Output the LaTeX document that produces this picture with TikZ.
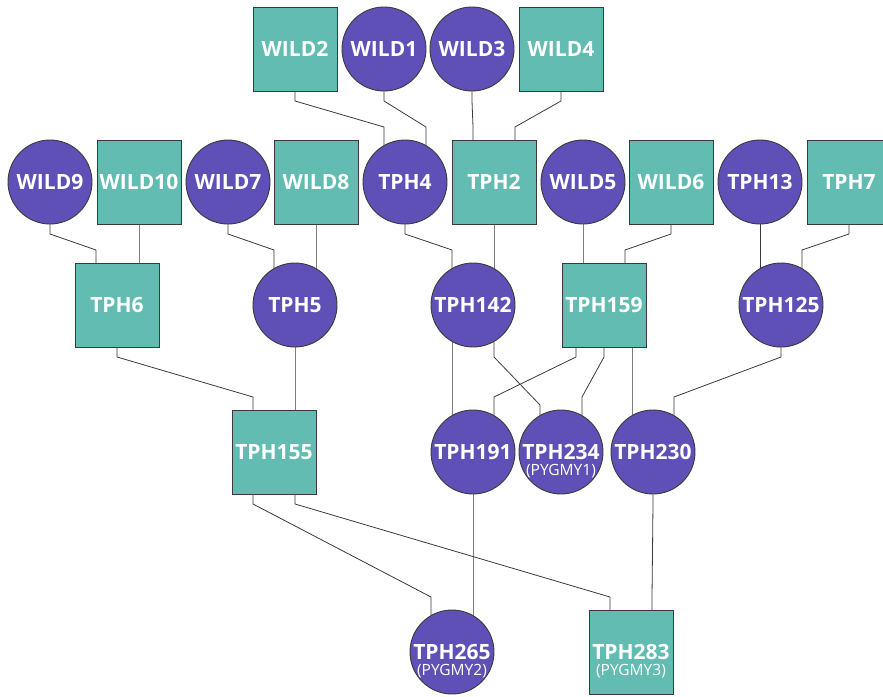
\documentclass[tikz,border=0pt]{standalone}
\usepackage{fontspec}
\setmainfont{Open Sans}
\usetikzlibrary{calc}
\pgfdeclarelayer{background}
\pgfsetlayers{background,main}
\definecolor{teal1}{HTML}{62BCB2}
\definecolor{purp1}{HTML}{5E50B6}
\definecolor{edgec}{HTML}{3A3A3A}
\tikzset{
  base/.style={draw=edgec, line width=0.9pt, inner sep=0pt, text=white,
    font=\fontsize{21}{24}\selectfont\bfseries},
  male/.style={base, rectangle, fill=teal1, minimum width=84pt, minimum height=84pt},
  female/.style={base, circle, fill=purp1, minimum size=84pt},
  sub/.style={text=white, inner sep=0pt, font=\fontsize{15.5}{17}\selectfont},
  link/.style={draw=edgec, line width=0.8pt}
}
\newcommand\pedge[4]{\draw[link] ($(#1.center)+(#2,0)$) -- ++(0,52) -- ($(#3.center)+(#4,-55)$) -- ($(#3.center)+(#4,0)$);}
\begin{document}
\begin{tikzpicture}[x=1pt,y=-1pt]
\useasboundingbox (0,0) rectangle (883,696);
% row 1
\node[male]   (WILD2) at (295,49) {WILD2};
\node[female] (WILD1) at (384,49) {WILD1};
\node[female] (WILD3) at (472,49) {WILD3};
\node[male]   (WILD4) at (561,49) {WILD4};
% row 2
\node[female] (WILD9)  at (50,182)  {WILD9};
\node[male]   (WILD10) at (139,182) {WILD10};
\node[female] (WILD7)  at (228,182) {WILD7};
\node[male]   (WILD8)  at (316,182) {WILD8};
\node[female] (TPH4)   at (405,182) {TPH4};
\node[male]   (TPH2)   at (494,182) {TPH2};
\node[female] (WILD5)  at (583,182) {WILD5};
\node[male]   (WILD6)  at (671,182) {WILD6};
\node[female] (TPH13)  at (760,182) {TPH13};
\node[male]   (TPH7)   at (849,182) {TPH7};
% row 3
\node[male]   (TPH6)   at (117,305) {TPH6};
\node[female] (TPH5)   at (295,305) {TPH5};
\node[female] (TPH142) at (473,305) {TPH142};
\node[male]   (TPH159) at (604,305) {TPH159};
\node[female] (TPH125) at (781,305) {TPH125};
% row 4
\node[male]   (TPH155) at (274,452) {TPH155};
\node[female] (TPH191) at (473,452) {TPH191};
\node[female] (TPH234) at (561,452) {TPH234};
\node[female] (TPH230) at (653,452) {TPH230};
% row 5
\node[female] (TPH265) at (452,652) {TPH265};
\node[male]   (TPH283) at (631,652) {TPH283};
% sub labels
\node[sub] (TPH234s) at ($(TPH234.center)+(0,19)$) {(PYGMY1)};
\node[sub] (TPH265s) at ($(TPH265.center)+(0,19)$) {(PYGMY2)};
\node[sub] (TPH283s) at ($(TPH283.center)+(0,19)$) {(PYGMY3)};
\begin{pgfonlayer}{background}
\pedge{WILD2}{0}{TPH4}{-21}
\pedge{WILD1}{0}{TPH4}{21}
\pedge{WILD3}{0}{TPH2}{-21}
\pedge{WILD4}{0}{TPH2}{21}
\pedge{WILD9}{0}{TPH6}{-21}
\pedge{WILD10}{0}{TPH6}{22}
\pedge{WILD7}{0}{TPH5}{-21}
\pedge{WILD8}{0}{TPH5}{21}
\pedge{TPH4}{0}{TPH142}{-21}
\pedge{TPH2}{0}{TPH142}{21}
\pedge{WILD5}{0}{TPH159}{-21}
\pedge{WILD6}{0}{TPH159}{21}
\pedge{TPH13}{0}{TPH125}{-21}
\pedge{TPH7}{0}{TPH125}{21}
\pedge{TPH6}{0}{TPH155}{-21}
\pedge{TPH5}{0}{TPH155}{21}
\pedge{TPH142}{-21}{TPH191}{-21}
\draw[link] ($(TPH142.center)+(21,0)$) -- ++(0,52) -- ($(TPH234.center)+(-21,-47)$) -- ($(TPH234.center)+(-21,0)$);
\pedge{TPH159}{-28}{TPH191}{21}
\pedge{TPH159}{0}{TPH234}{21}
\pedge{TPH159}{28}{TPH230}{-21}
\pedge{TPH125}{0}{TPH230}{21}
\pedge{TPH155}{-21}{TPH265}{-21}
\pedge{TPH155}{21}{TPH283}{-21}
\pedge{TPH191}{0}{TPH265}{21}
\pedge{TPH230}{0}{TPH283}{21}
\end{pgfonlayer}
\end{tikzpicture}
\end{document}
